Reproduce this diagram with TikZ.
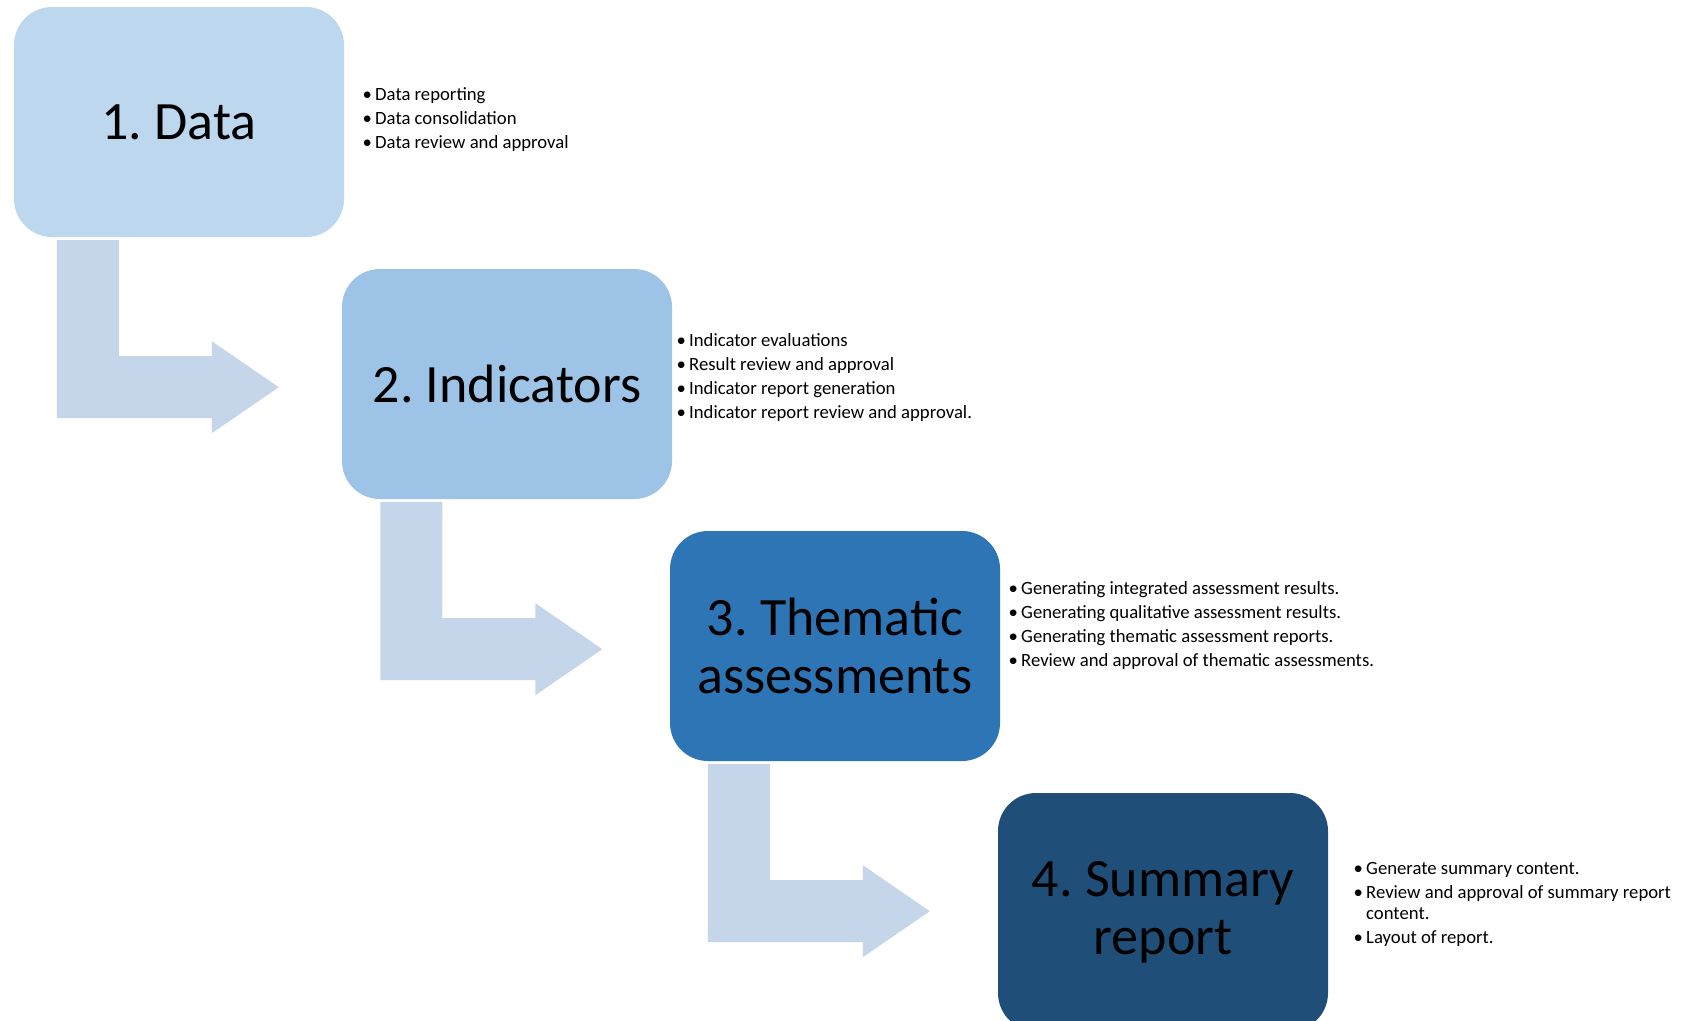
\documentclass[tikz,border=0pt]{standalone}
\usepackage{fontspec}
\setmainfont{Carlito}
\usetikzlibrary{calc}
\definecolor{boxA}{HTML}{BDD7EE}
\definecolor{boxB}{HTML}{9DC3E6}
\definecolor{boxC}{HTML}{2E75B6}
\definecolor{boxD}{HTML}{1F4E79}
\definecolor{arrowc}{HTML}{C5D5EA}
\newcommand\blt{\makebox[12.5pt][l]{\textbullet}}
\frenchspacing
\begin{document}
\begin{tikzpicture}[x=1pt,y=-1pt,
  stepbox/.style={rectangle, rounded corners=38pt, minimum width=330pt,
    minimum height=230pt, inner sep=0pt, align=center,
    font=\fontsize{54}{58}\selectfont\frenchspacing, text=black},
  listbox/.style={anchor=north west, inner sep=0pt, align=left,
    font=\fontsize{18.7}{24}\selectfont, text=black},
  bentarrow/.style={fill=arrowc, draw=none}]
\clip (0,0) rectangle (1681,1020);
\fill[white] (0,0) rectangle (1681,1020);

\node[stepbox, fill=boxA] (b1) at (179,122) {1. Data};
\node[stepbox, fill=boxB] (b2) at (507,384) {2. Indicators};
\node[stepbox, fill=boxC] (b3) at (835,646) {3. Thematic\\assessments};
\node[stepbox, fill=boxD, minimum height=238pt] (b4) at (1163,912) {4. Summary\\report};

\foreach \b/\d in {b1/43,b2/38.5,b3/38} {
  \fill[bentarrow] ($(\b.south west)+(\d,3)$) -- ($(\b.south west)+(\d+62,3)$)
    -- ($(\b.south west)+(\d+62,119)$) -- ($(\b.south west)+(\d+155,119)$)
    -- ($(\b.south west)+(\d+155,104)$) -- ($(\b.south west)+(\d+222,150)$)
    -- ($(\b.south west)+(\d+155,196)$) -- ($(\b.south west)+(\d+155,181)$)
    -- ($(\b.south west)+(\d,181)$) -- cycle;
}

\node[listbox] (l1) at (362.5,87.5) {\blt Data reporting\\
  \blt Data consolidation\\
  \blt Data review and approval};
\node[listbox] (l2) at (676.5,333.5) {\blt Indicator evaluations\\
  \blt Result review and approval\\
  \blt Indicator report generation\\
  \blt Indicator report review and approval.};
\node[listbox] (l3) at (1008.5,581.5) {\blt Generating integrated assessment results.\\
  \blt Generating qualitative assessment results.\\
  \blt Generating thematic assessment reports.\\
  \blt Review and approval of thematic assessments.};
\node[listbox] (l4) at (1353.5,862.5) {\blt Generate summary content.\\
  \blt Review and approval of summary report\\[-3pt]
  \hspace*{12.5pt}content.\\
  \blt Layout of report.};
\end{tikzpicture}
\end{document}
